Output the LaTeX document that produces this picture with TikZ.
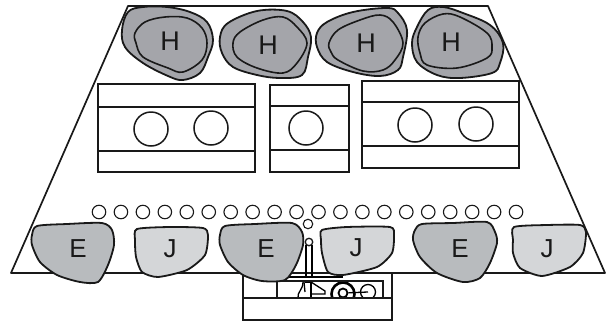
\documentclass[tikz,border=0pt]{standalone}
\usepackage{fontspec}
\setmainfont{Liberation Sans}
\usetikzlibrary{positioning}
\definecolor{headgray}{RGB}{164,165,170}
\definecolor{enggray}{RGB}{184,187,190}
\definecolor{jetgray}{RGB}{212,214,216}
\tikzset{
  hull/.style={line width=1.7pt, black!90, line join=round},
  hblob/.style={line width=1.8pt, black!90, fill=headgray, smooth cycle, tension=0.6},
  hcore/.style={line width=1.6pt, black!90, smooth cycle, tension=0.6},
  eblob/.style={line width=1.8pt, black!90, fill=enggray, smooth cycle, tension=0.45},
  jblob/.style={line width=1.8pt, black!90, fill=jetgray, smooth cycle, tension=0.4},
  blobtext/.style={font=\fontsize{27}{27}\selectfont, inner sep=0pt, text=black!90},
  lowtext/.style={blobtext, font=\fontsize{26}{26}\selectfont},
  porthole/.style={circle, draw=black!90, line width=1.1pt, fill=white, minimum size=13.5pt, inner sep=0pt},
  tankport/.style={circle, draw=black!90, line width=1.5pt, fill=white, minimum size=34pt, inner sep=0pt},
  tankbox/.style={draw=black!90, line width=1.6pt},
  gearpart/.style={draw=black, line width=1.3pt},
}
\begin{document}
\begin{tikzpicture}[x=1pt,y=-1pt]
  \useasboundingbox (0,0) rectangle (606,325);
  % hull outline
  \coordinate (hullA) at (128,6);
  \coordinate (hullB) at (488,6);
  \coordinate (hullC) at (605,273);
  \coordinate (hullD) at (11,273);
  \draw[hull] (hullA) -- (hullB) -- (hullC) -- (hullD) -- cycle;
  % H blobs
  \draw[hblob] plot coordinates {(128,12) (143,7) (167,7) (190,12) (207,22) (213,40) (208,57) (200,73) (183,80) (168,76) (143,63) (125,47) (122,30)};
  \draw[hcore] plot coordinates {(135,33) (145,22) (165,17) (187,18) (202,28) (207,43) (202,60) (183,72) (168,68) (143,57) (136,43)};
  \node[blobtext] (h1) at (170,41) {H};
  \draw[hblob] plot coordinates {(220,37) (228,23) (257,11) (287,11) (303,22) (311,37) (308,57) (302,75) (280,78) (257,75) (233,67) (222,53)};
  \draw[hcore] plot coordinates {(233,43) (240,32) (263,20) (283,17) (297,27) (307,43) (297,63) (283,73) (257,68) (237,57)};
  \node[blobtext] (h2) at (268,45) {H};
  \draw[hblob] plot coordinates {(317,33) (327,22) (353,12) (387,8) (398,13) (407,30) (403,57) (398,70) (380,76) (353,72) (327,62) (317,47)};
  \draw[hcore] plot coordinates {(329,43) (338,30) (360,20) (380,15) (393,22) (403,43) (395,60) (383,70) (363,71) (338,60) (331,52)};
  \node[blobtext] (h3) at (366,43) {H};
  \draw[hblob] plot coordinates {(412,43) (417,27) (428,10) (443,7) (463,13) (490,25) (503,43) (500,63) (492,73) (460,78) (437,75) (417,62)};
  \draw[hcore] plot coordinates {(418,37) (425,23) (443,14) (460,17) (487,33) (492,47) (487,58) (457,68) (427,65) (420,53)};
  \node[blobtext] (h4) at (451,42) {H};
  % tanks
  \draw[tankbox] (98,84) rectangle (255,172);
  \draw[tankbox] (98,107) -- (255,107) (98,151) -- (255,151);
  \node[tankport] (t1) at (151,129) {};
  \node[tankport] (t2) at (211,128) {};
  \draw[tankbox] (270,85) rectangle (349,172);
  \draw[tankbox] (270,106) -- (349,106) (270,150) -- (349,150);
  \node[tankport] (t3) at (306,128) {};
  \draw[tankbox] (362,81) rectangle (519,168);
  \draw[tankbox] (362,102) -- (519,102) (362,146) -- (519,146);
  \node[tankport] (t4) at (415,125) {};
  \node[tankport] (t5) at (476,124) {};
  % row of small ports
  \foreach \i in {0,...,19} {
    \pgfmathsetmacro{\px}{99+21.95*\i}
    \node[porthole] (p\i) at (\px,212) {};
  }
  \node[porthole, minimum size=9.5pt] (pc) at (308,224) {};
  % gear parts
  \node[circle, draw=black, line width=2.6pt, minimum size=23pt, inner sep=0pt] (g1) at (343,294) {};
  \node[circle, draw=black, line width=1.8pt, minimum size=9pt, inner sep=0pt] (g2) at (343,293) {};
  \node[circle, gearpart, minimum size=15pt, inner sep=0pt] (g3) at (368,292) {};
  \draw[gearpart] (g2) -- (g3.center);
  \draw[gearpart] (303,282) .. controls (303,290) and (297,292) .. (298,298);
  \draw[gearpart] (305,282) -- (311,282) -- (311,298);
  \draw[gearpart] (311,282) -- (325,291) -- (325,294) -- (312,294);
  \draw[gearpart] (304,282) -- (305,292);
  % stern box
  \draw[tankbox, fill=white] (243,298) rectangle (392,320);
  \draw[tankbox] (243,273) -- (243,298) (392,273) -- (392,298);
  \draw[tankbox] (277,298) -- (277,281) -- (383,281) -- (383,298);
  % shaft
  \node[circle, draw=black!90, line width=1.3pt, fill=white, minimum size=7.5pt, inner sep=0pt] (ps) at (309,242) {};
  \draw[gearpart] (ps.south west) -- ++(0,31) (ps.south east) -- ++(0,31);
  \draw[gearpart] (285,277) -- (343,277);
  % E and J blobs
  \draw[jblob] plot coordinates {(137,229) (170,227) (203,228) (208,235) (205,255) (187,270) (158,277) (142,272) (136,257) (135,240)};
  \node[lowtext] (j1) at (170,249) {J};
  \draw[jblob] plot coordinates {(322,230) (347,227) (390,227) (394,235) (392,253) (377,267) (343,275) (328,272) (322,253) (321,240)};
  \node[lowtext] (j2) at (356,248) {J};
  \draw[jblob] plot coordinates {(514,227) (547,225) (580,225) (586,232) (583,253) (570,267) (542,276) (520,268) (513,253) (513,240)};
  \node[lowtext] (j3) at (547,249) {J};
  \draw[eblob] plot coordinates {(37,226) (67,224) (102,223) (112,230) (114,245) (108,265) (98,282) (80,282) (57,275) (40,262) (32,245) (32,235)};
  \node[lowtext] (e1) at (78,249) {E};
  \draw[eblob] plot coordinates {(225,226) (255,224) (292,223) (302,232) (303,245) (296,265) (285,280) (262,281) (243,275) (228,262) (220,245) (220,235)};
  \node[lowtext] (e2) at (266,249) {E};
  \draw[eblob] plot coordinates {(422,224) (453,223) (487,222) (495,232) (497,243) (490,263) (480,278) (463,282) (437,273) (420,257) (413,240) (415,230)};
  \node[lowtext] (e3) at (460,249) {E};
\end{tikzpicture}
\end{document}
